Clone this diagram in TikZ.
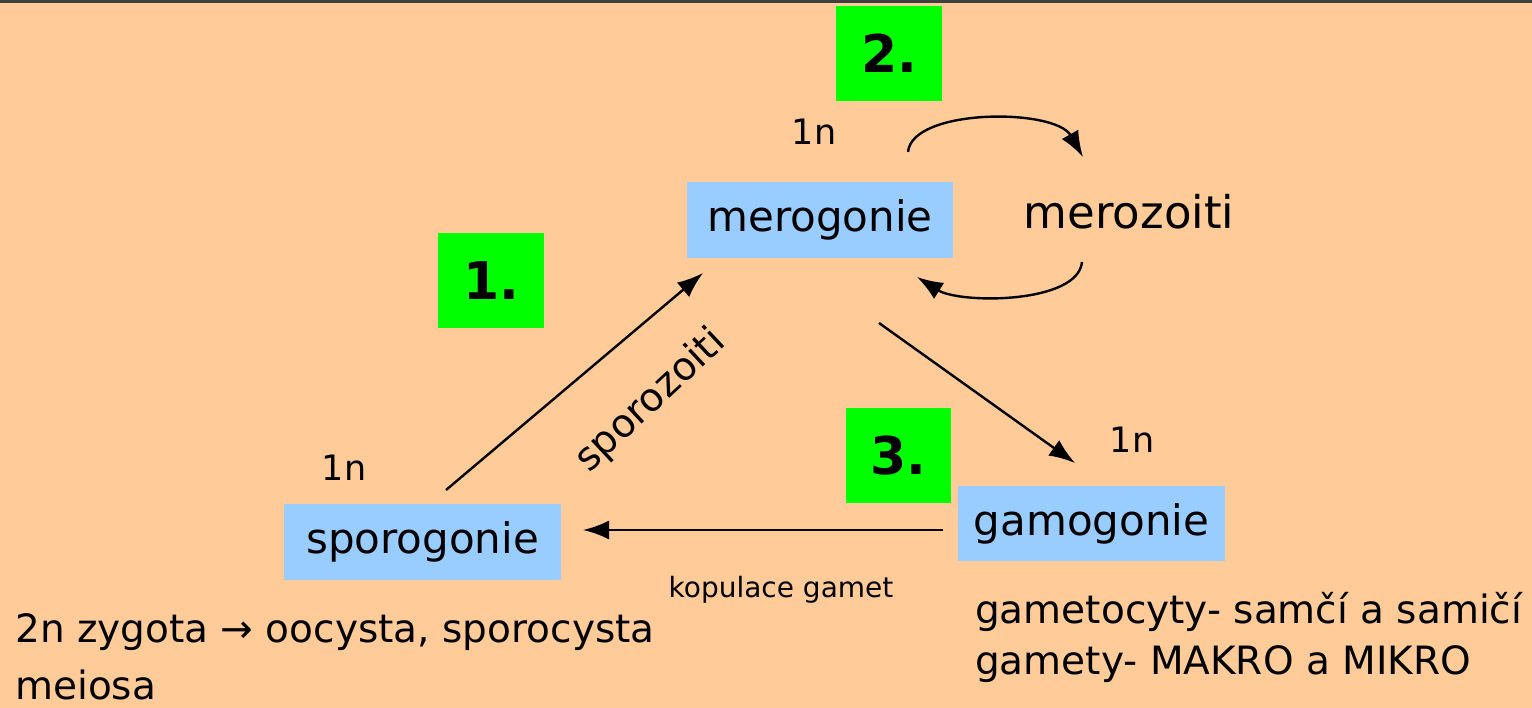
\documentclass[tikz,border=0pt]{standalone}
\usepackage{fontspec}
\setmainfont{DejaVu Sans}
\usetikzlibrary{arrows.meta}
\definecolor{bgc}{HTML}{FFCC99}
\definecolor{grn}{HTML}{00FF00}
\definecolor{blu}{HTML}{99CCFF}
\tikzset{
  numbox/.style={fill=grn, inner sep=0pt, font=\fontsize{52}{60}\selectfont\bfseries},
  stagebox/.style={fill=blu, inner sep=0pt, font=\fontsize{42}{48}\selectfont},
  lbl/.style={inner sep=0pt, font=\fontsize{39}{46}\selectfont},
  small/.style={inner sep=0pt, font=\fontsize{28}{32}\selectfont},
  arr/.style={line width=2.4pt, -{Latex[length=26pt,width=19pt]}},
}
\begin{document}
\begin{tikzpicture}[x=1pt,y=-1pt]
\fill[bgc] (0,0) rectangle (1532,708);
\useasboundingbox (0,0) rectangle (1532,708);
\fill[black!75] (0,0) rectangle (1532,3);
% number boxes
\node[numbox, minimum width=106pt, minimum height=95pt] (n2) at (889,53.5) {2.};
\node[numbox, minimum width=106pt, minimum height=95pt] (n1) at (491,280.5) {1.};
\node[numbox, minimum width=105pt, minimum height=95pt] (n3) at (898.5,455.5) {3.};
% stage boxes
\node[stagebox, minimum width=266pt, minimum height=76pt] (mero) at (820,220) {merogonie};
\node[stagebox, minimum width=277pt, minimum height=76pt] (spor) at (422.5,542) {sporogonie};
\node[stagebox, minimum width=267pt, minimum height=75pt] (gamo) at (1091.5,523.5) {gamogonie};
% labels
\node[lbl, font=\fontsize{35}{40}\selectfont] (h1) at (814,132) {1n};
\node[lbl, font=\fontsize{35}{40}\selectfont] (h2) at (344,468) {1n};
\node[lbl, font=\fontsize{35}{40}\selectfont] (h3) at (1132,440) {1n};
\node[lbl, font=\fontsize{45}{52}\selectfont] (mz) at (1129,212) {merozoiti};
\node[lbl, rotate=43] (sz) at (651,401) {sporozoiti};
\node[small] (kg) at (781,590) {kopulace gamet};
\node[lbl, anchor=west] (zy) at (15,632) {2n zygota → oocysta, sporocysta};
\node[lbl, anchor=west] (me) at (15,685) {meiosa};
\node[lbl, anchor=west] (g1) at (975,612) {gametocyty- samčí a samičí};
\node[lbl, anchor=west] (g2) at (975,664) {gamety- MAKRO a MIKRO};
% coordinates for connectors
\coordinate (a1) at (446,490);
\coordinate (a2) at (703,273);
\coordinate (b1) at (879,323);
\coordinate (b2) at (1075,463);
\coordinate (c1) at (943,530);
\coordinate (c2) at (583,530);
\coordinate (t1) at (908,152);
\coordinate (t2) at (1083,157);
\coordinate (u1) at (1082,262);
\coordinate (u2) at (917,277);
\draw[arr] (a1) -- (a2);
\draw[arr] (b1) -- (b2);
\draw[arr] (c1) -- (c2);
\draw[arr] (t1) .. controls (912,108) and (1055,108) .. (t2);
\draw[arr] (u1) .. controls (1078,304) and (960,304) .. (u2);
\end{tikzpicture}
\end{document}
